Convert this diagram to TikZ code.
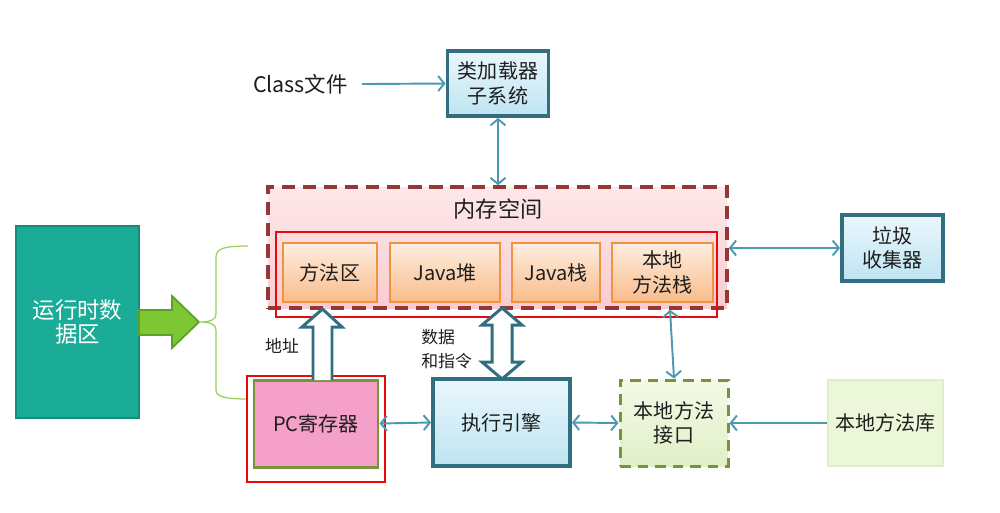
\documentclass[tikz,border=0pt]{standalone}
\usepackage{fontspec}
\setmainfont{Noto Sans CJK SC}
\usepackage{tikz}
\usetikzlibrary{arrows.meta}
\usetikzlibrary{calc}

\definecolor{boxteal}{RGB}{49,111,128}
\definecolor{linkteal}{RGB}{75,154,178}
\definecolor{blueTop}{RGB}{234,247,252}
\definecolor{blueBot}{RGB}{190,228,242}
\definecolor{memTop}{RGB}{253,232,234}
\definecolor{memBot}{RGB}{248,204,208}
\definecolor{memLine}{RGB}{149,55,53}
\definecolor{redLine}{RGB}{230,10,10}
\definecolor{orangeLine}{RGB}{242,145,62}
\definecolor{orangeTop}{RGB}{253,238,225}
\definecolor{orangeBot}{RGB}{250,188,138}
\definecolor{rtFill}{RGB}{27,172,151}
\definecolor{rtLine}{RGB}{20,140,122}
\definecolor{arrowGreen}{RGB}{125,200,50}
\definecolor{arrowGreenLine}{RGB}{92,160,40}
\definecolor{braceGreen}{RGB}{150,210,90}
\definecolor{pcFill}{RGB}{244,160,200}
\definecolor{pcLine}{RGB}{119,147,60}
\definecolor{nifTop}{RGB}{244,250,232}
\definecolor{nifBot}{RGB}{224,239,198}
\definecolor{nlibFill}{RGB}{236,246,216}
\definecolor{nlibLine}{RGB}{224,238,202}
\definecolor{txt}{RGB}{30,30,30}

\def\pxu{0.02cm}
\newcommand{\fs}[1]{\fontsize{#1}{14pt}\selectfont}

\tikzset{
  tealbox/.style={draw=boxteal, line width=2.2pt, top color=blueTop, bottom color=blueBot,
    text=txt, align=center, font=\fs{11.4}},
  orangebox/.style={draw=orangeLine, line width=1.6pt, top color=orangeTop, bottom color=orangeBot,
    minimum height=59*\pxu, text=txt, align=center, font=\fs{11.4}},
  link/.style={draw=linkteal, line width=1.1pt,
    {Straight Barb[length=3.5pt,width=8.5pt]}-{Straight Barb[length=3.5pt,width=8.5pt]}},
  linkto/.style={draw=linkteal, line width=1.1pt, -{Straight Barb[length=3.5pt,width=8.5pt]}},
  hollow/.style={draw=boxteal, line width=1.7pt, fill=white, line join=miter},
  plain/.style={text=txt, align=left, inner sep=0pt}
}

\begin{document}
\begin{tikzpicture}[x=\pxu, y=-\pxu]
  \useasboundingbox (0,0) rectangle (1000,512);
  \fill[white] (0,0) rectangle (1000,512);

  % memory area
  \node[draw=memLine, line width=2pt, dash pattern=on 7.5pt off 4.5pt, top color=memTop, bottom color=memBot,
        minimum width=459*\pxu, minimum height=121*\pxu] (mem) at (497.5,247.5) {};
  \node[text=txt, font=\fs{12.6}] (memlabel) at (498,209) {内存空间};
  \node[draw=redLine, line width=1.2pt, minimum width=441*\pxu, minimum height=85*\pxu] (memframe) at (496.5,274.5) {};
  \node[orangebox, minimum width=94*\pxu]  (mA) at (330,272.5)   {方法区};
  \node[orangebox, minimum width=110*\pxu] (mB) at (445,272.5)   {Java堆};
  \node[orangebox, minimum width=88*\pxu]  (mC) at (556,272.5)   {Java栈};
  \node[orangebox, minimum width=101*\pxu] (mD) at (662.5,272.5) {本地\\方法栈};

  % class loading
  \node[tealbox, minimum width=101*\pxu, minimum height=65*\pxu] (loader) at (498,83.5) {类加载器\\子系统};
  \node[text=txt, font=\fs{12.2}, anchor=east] (cls) at (354,84) {Class文件};
  \node[tealbox, minimum width=101*\pxu, minimum height=66*\pxu] (gc) at (892.5,248) {垃圾\\收集器};

  % runtime data area
  \node[draw=rtLine, line width=1.4pt, fill=rtFill, text=white, align=center, font=\fs{12.8},
        minimum width=123*\pxu, minimum height=192*\pxu] (rt) at (77.5,322) {运行时数\\据区};
  \draw[draw=arrowGreenLine, line width=1pt, fill=arrowGreen, line join=miter]
    (139,310) -- (172,310) -- (172,296) -- (199,322) -- (172,348) -- (172,335) -- (139,335) -- cycle;
  \draw[braceGreen, line width=0.7pt]
    (248,246) .. controls (226,246) and (216,248) .. (216,257) -- (216,314)
    .. controls (216,320) and (210,322) .. (199,322)
    .. controls (210,322) and (216,324) .. (216,330) -- (216,390)
    .. controls (216,397) and (226,399) .. (248,399);

  % lower row
  \node[draw=redLine, line width=1.2pt, minimum width=138*\pxu, minimum height=106*\pxu] (pcframe) at (316,429) {};
  \node[draw=pcLine, line width=1.7pt, fill=pcFill, text=txt, font=\fs{11.4},
        minimum width=124*\pxu, minimum height=87*\pxu] (pc) at (316,423.5) {PC寄存器};
  \node[tealbox, minimum width=137*\pxu, minimum height=87*\pxu] (exe) at (501.5,422.5) {执行引擎};
  \node[draw=pcLine, line width=1.7pt, dash pattern=on 6pt off 4pt, top color=nifTop, bottom color=nifBot,
        text=txt, align=center, font=\fs{11.4},
        minimum width=108*\pxu, minimum height=86*\pxu] (nif) at (674,423) {本地方法\\接口};
  \node[draw=nlibLine, line width=1.4pt, fill=nlibFill, text=txt, font=\fs{11.4},
        minimum width=115*\pxu, minimum height=86*\pxu] (nlib) at (885.5,423) {本地方法库};

  % hollow arrows
  \draw[hollow] (313,380) -- (313,327) -- (302,327) -- (322.5,309) -- (342,327) -- (332,327) -- (332,380);
  \draw[hollow] (492,362) -- (492,325) -- (482,325) -- (502,308) -- (522,325) -- (512,325)
    -- (512,362) -- (522,362) -- (502,379) -- (482,362) -- cycle;
  \node[plain, font=\fs{9.6}] (addr) at (282,346) {地址};
  \node[plain, font=\fs{9.6}, anchor=west] (data) at (421,349) {数据\\和指令};

  % connectors
  \draw[linkto] (cls.east) ++(8,0) -- (loader.west);
  \draw[link] (loader.south) -- (loader.south |- mem.north);
  \draw[link] (mem.east |- gc.west) -- (gc.west);
  \draw[link] (pc.east) -- (exe.west);
  \draw[link] (exe.east) -- (nif.west);
  \draw[linkto] (nlib.west) -- (nif.east);
  \draw[link] ([xshift=-4*\pxu]nif.north |- mem.south) -- (nif.north);
\end{tikzpicture}
\end{document}
